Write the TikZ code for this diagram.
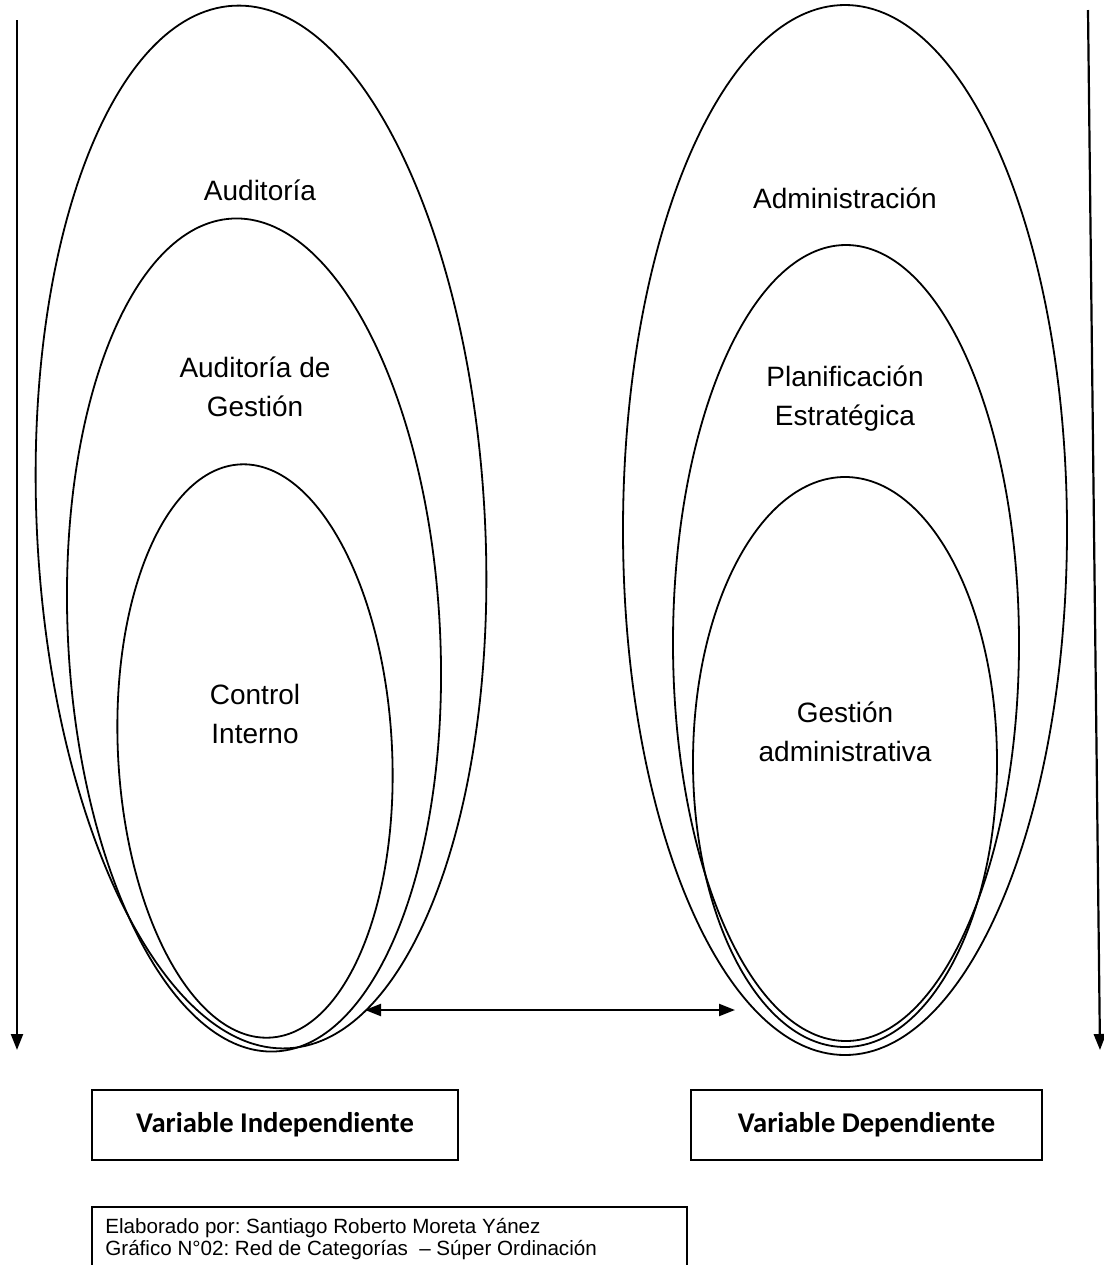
\documentclass[tikz,border=0pt]{standalone}
\usepackage{fontspec}
\setmainfont{Liberation Sans}
\newfontfamily\boxfont{Carlito}
\usetikzlibrary{arrows.meta}
\frenchspacing
\begin{document}
\begin{tikzpicture}[x=0.5pt,y=-0.5pt,
  oval/.style={draw=black, line width=0.9pt},
  pointer/.style={line width=1.1pt, -{Triangle[length=8pt,width=6pt]}},
  twoway/.style={line width=1.1pt, {Triangle[length=8pt,width=6pt]}-{Triangle[length=8pt,width=6pt]}},
  cat/.style={font=\fontsize{14}{19.5}\selectfont, align=center, inner sep=0pt},
  varbox/.style={draw=black, line width=0.9pt, minimum height=35pt, inner sep=0pt,
    font=\boxfont\bfseries\fontsize{14.3}{16}\selectfont},
  note/.style={font=\fontsize{10.3}{11}\selectfont, align=left, inner sep=0pt, anchor=west}
]
\useasboundingbox (0,0) rectangle (1104,1265);

% independent variable: nested categories
\draw[oval, rotate around={3:(261,527)}] (261,527) ellipse [x radius=224, y radius=522];
\draw[oval, rotate around={3:(254,635)}] (254,635) ellipse [x radius=186, y radius=417];
\draw[oval, rotate around={3:(255,751)}] (255,751) ellipse [x radius=137, y radius=287];

% dependent variable: nested categories
\draw[oval] (845,530) ellipse [x radius=222, y radius=525];
\draw[oval] (846,643) ellipse [x radius=173, y radius=398];
\draw[oval] (845,762) ellipse [x radius=152, y radius=285];

% category labels
\node[cat] (aud) at (260,190) {Auditoría};
\node[cat] (audg) at (255,387) {Auditoría de\\Gestión};
\node[cat] (ci) at (255,714) {Control\\Interno};
\node[cat] (adm) at (845,198) {Administración};
\node[cat] (plan) at (845,399) {Planificación\\Estratégica};
\node[cat] (gest) at (845,732) {Gestión\\administrativa};

% direction of super-ordination
\coordinate (lt) at (17,20);
\coordinate (lb) at (17,1050);
\coordinate (rt) at (1088,10);
\coordinate (rb) at (1100,1050);
\draw[pointer] (lt) -- (lb);
\draw[pointer] (rt) -- (rb);

% relation between both variables
\coordinate (relL) at (365,1010);
\coordinate (relR) at (735,1010);
\draw[twoway] (relL) -- (relR);

% variable captions
\node[varbox, minimum width=183pt] (vi) at (275,1125) {Variable Independiente};
\node[varbox, minimum width=175.5pt] (vd) at (866.5,1125) {Variable Dependiente};

% authorship note (box runs off the lower edge)
\draw[line width=0.9pt] (92,1270) -- (92,1207) -- (687,1207) -- (687,1270);
\node[note] (auth) at (105,1239) {Elaborado por: Santiago Roberto Moreta Yánez\\Gráfico N°02: Red de Categorías \ – Súper Ordinación};
\end{tikzpicture}
\end{document}
